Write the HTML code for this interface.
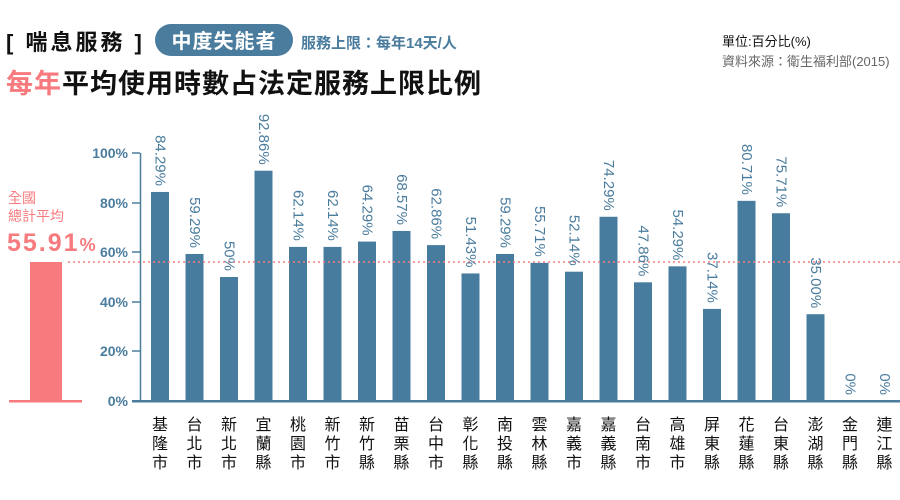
<!DOCTYPE html>
<html><head><meta charset="utf-8"><style>
body{margin:0;background:#fff;}
svg{display:block;font-family:"Liberation Sans","Noto Sans CJK TC",sans-serif;}
</style></head><body>
<svg width="900" height="500" viewBox="0 0 900 500" xmlns="http://www.w3.org/2000/svg">
<text x="6" y="50" font-size="22" font-weight="bold" fill="#111" letter-spacing="3">[ 喘息服務 ]</text>
<rect x="155" y="24" width="138" height="32" rx="16" fill="#4a7c9e"/>
<text x="224" y="48" font-size="20" font-weight="bold" fill="#fff" text-anchor="middle" letter-spacing="1">中度失能者</text>
<text x="301" y="48" font-size="15" font-weight="bold" fill="#4a7c9e">服務上限：每年14天/人</text>
<text x="6" y="93" font-size="27" font-weight="bold" fill="#111" letter-spacing="1"><tspan fill="#f77b7e">每年</tspan>平均使用時數占法定服務上限比例</text>
<text x="722" y="46" font-size="13" fill="#111">單位:百分比(%)</text>
<text x="722" y="66" font-size="13" fill="#666">資料來源：衛生福利部(2015)</text>

<text x="8" y="203" font-size="14" fill="#f77b7e">全國</text>
<text x="8" y="221" font-size="14" fill="#f77b7e">總計平均</text>
<text x="7" y="251" font-size="25" font-weight="bold" fill="#f77b7e" letter-spacing="2">55.91<tspan font-size="18" letter-spacing="0">%</tspan></text>
<rect x="30" y="262" width="32" height="139" fill="#f77b7e"/>
<rect x="9" y="400" width="73" height="2.5" fill="#f77b7e"/>

<g fill="#4a7c9e" font-size="14" font-weight="bold" text-anchor="end">
<text x="128" y="158">100%</text><text x="128" y="208">80%</text><text x="128" y="257">60%</text>
<text x="128" y="307">40%</text><text x="128" y="356">20%</text><text x="128" y="406">0%</text>
</g>
<g stroke="#4a7c9e" stroke-width="1.5">
<line x1="140.5" y1="153" x2="140.5" y2="401"/>
<line x1="132" y1="153" x2="140" y2="153"/><line x1="132" y1="203" x2="140" y2="203"/>
<line x1="132" y1="252" x2="140" y2="252"/><line x1="132" y1="302" x2="140" y2="302"/>
<line x1="132" y1="351" x2="140" y2="351"/>
</g>
<g id="bars"></g>
<rect x="132" y="400" width="768" height="2.5" fill="#4a7c9e"/>
<line x1="68" y1="262" x2="900" y2="262" stroke="#f77b7e" stroke-width="1.5" stroke-dasharray="2,3"/>
<g id="g"></g>
</svg>
<script>
const v=[84.29,59.29,50,92.86,62.14,62.14,64.29,68.57,62.86,51.43,59.29,55.71,52.14,74.29,47.86,54.29,37.14,80.71,75.71,35.00,0,0];
const l=["84.29%","59.29%","50%","92.86%","62.14%","62.14%","64.29%","68.57%","62.86%","51.43%","59.29%","55.71%","52.14%","74.29%","47.86%","54.29%","37.14%","80.71%","75.71%","35.00%","0%","0%"];
const n=["基隆市","台北市","新北市","宜蘭縣","桃園市","新竹市","新竹縣","苗栗縣","台中市","彰化縣","南投縣","雲林縣","嘉義市","嘉義縣","台南市","高雄市","屏東縣","花蓮縣","台東縣","澎湖縣","金門縣","連江縣"];
const ns="http://www.w3.org/2000/svg";let b=document.getElementById('bars'),g=document.getElementById('g');
v.forEach((val,i)=>{const cx=160+i*34.5,top=401-val*2.48;
if(val>0){const r=document.createElementNS(ns,'rect');r.setAttribute('x',cx-9);r.setAttribute('y',top);r.setAttribute('width',18);r.setAttribute('height',401-top);r.setAttribute('fill','#477c9f');b.appendChild(r);}
const t=document.createElementNS(ns,'text');t.setAttribute('transform',`translate(${cx},${top-6}) rotate(90)`);t.setAttribute('text-anchor','end');t.setAttribute('dominant-baseline','central');t.setAttribute('font-size','15');t.setAttribute('fill','#4a7c9e');t.textContent=l[i];g.appendChild(t);
[...n[i]].forEach((c,k)=>{const s=document.createElementNS(ns,'text');s.setAttribute('x',cx);s.setAttribute('y',430+k*19);s.setAttribute('text-anchor','middle');s.setAttribute('font-size','16');s.setAttribute('fill','#111');s.textContent=c;g.appendChild(s);});
});
</script>
</body></html>
